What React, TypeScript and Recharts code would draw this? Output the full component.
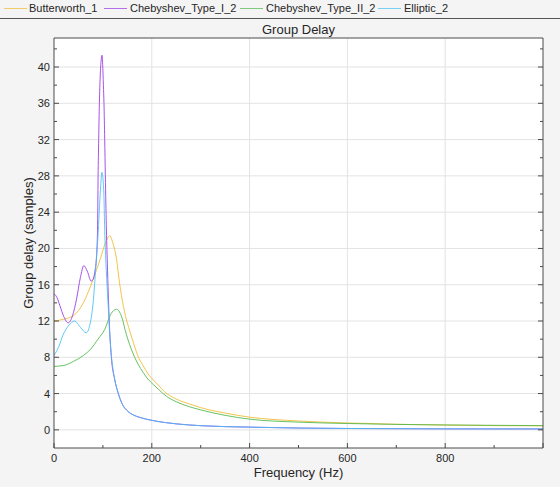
import React from 'react';
import {
  LineChart,
  Line,
  XAxis,
  YAxis,
  CartesianGrid,
} from 'recharts';

// Frequency (Hz) / group delay (samples)
const butterFreq = [0, 20, 40, 60, 80, 95, 105, 114, 118, 122, 128, 134, 138, 146, 155, 163, 172, 182, 192, 203, 213, 226, 250, 277, 300, 350, 400, 500, 600, 700, 800, 900, 1000];
const butterDelay = [12.0, 12.2, 12.6, 14.0, 16.6, 18.9, 20.6, 21.4, 21.0, 20.3, 18.8, 16.2, 14.8, 12.6, 10.9, 9.5, 8.1, 7.1, 6.2, 5.5, 4.95, 4.2, 3.4, 2.85, 2.45, 1.85, 1.4, 0.98, 0.76, 0.62, 0.53, 0.47, 0.44];

const cheb1Freq = [0, 6, 12, 20, 29, 38, 46, 54, 61, 68, 76, 80, 84, 87, 89, 90.2, 91.4, 92.8, 94.5, 96.5, 98.2, 99.5, 101, 102.2, 103.7, 105, 107, 109, 111, 113, 117, 124, 131, 140, 151, 162, 175, 200, 225, 250, 300, 400, 500, 600, 800, 1000];
const cheb1Delay = [15.0, 14.6, 13.7, 12.5, 11.8, 12.6, 14.4, 16.8, 18.1, 17.5, 16.4, 16.6, 17.6, 19.2, 22, 28, 32, 36, 39, 40.8, 41.3, 40.3, 38, 36, 32, 28, 22.5, 18.5, 15, 12, 8.2, 5.6, 4.1, 2.8, 2.05, 1.65, 1.38, 1.05, 0.82, 0.66, 0.46, 0.3, 0.2, 0.15, 0.11, 0.1];

const cheb2Freq = [0, 20, 40, 60, 75, 90, 104, 116, 122, 128, 134, 140, 145, 151, 158, 165, 172, 182, 192, 203, 213, 230, 250, 277, 300, 350, 400, 500, 600, 700, 800, 900, 1000];
const cheb2Delay = [7.0, 7.1, 7.55, 8.2, 8.9, 10.0, 11.1, 12.75, 13.15, 13.3, 13.0, 12.2, 11.1, 10.0, 8.9, 8.0, 7.24, 6.35, 5.6, 5.0, 4.5, 3.7, 3.1, 2.55, 2.2, 1.6, 1.18, 0.85, 0.7, 0.6, 0.54, 0.5, 0.47];

const ellipFreq = [0, 10, 18, 30, 42, 54, 66, 73, 80, 85, 90, 95, 98, 101.6, 104, 107, 110.5, 114, 117, 124, 131, 140, 151, 162, 175, 200, 225, 250, 300, 400, 500, 600, 800, 1000];
const ellipDelay = [8.2, 9.2, 10.4, 11.5, 12.0, 11.3, 10.7, 11.5, 14.0, 17.5, 21.4, 26.5, 28.4, 26.5, 21.4, 17.5, 14.0, 10.5, 8.4, 5.6, 4.1, 2.8, 2.05, 1.65, 1.38, 1.05, 0.82, 0.66, 0.46, 0.3, 0.2, 0.15, 0.11, 0.1];

const xTicks = [0, 100, 200, 300, 400, 500, 600, 700, 800, 900, 1000];
const yTicks = [0, 2, 4, 6, 8, 10, 12, 14, 16, 18, 20, 22, 24, 26, 28, 30, 32, 34, 36, 38, 40, 42];
const xGrid = [200, 400, 600, 800];
const yGrid = [0, 4, 8, 12, 16, 20, 24, 28, 32, 36, 40];

const toPoints = (xs: number[], ys: number[]) => xs.map((x, i) => ({ x, y: ys[i] }));

const series = [
  { name: 'Butterworth_1', color: '#f0b92e', data: toPoints(butterFreq, butterDelay) },
  { name: 'Chebyshev_Type_I_2', color: '#9a33e6', data: toPoints(cheb1Freq, cheb1Delay) },
  { name: 'Chebyshev_Type_II_2', color: '#4cb748', data: toPoints(cheb2Freq, cheb2Delay) },
  { name: 'Elliptic_2', color: '#43bff2', data: toPoints(ellipFreq, ellipDelay) },
];

const FONT = '"Liberation Sans", Arial, sans-serif';
const FRAME = '#4a4a4a';
const TEXT = '#262626';

const isMajorX = (v: number) => v % 200 === 0;
const isMajorY = (v: number) => v % 4 === 0;

const BottomTick = ({ x, y, payload }: any) => {
  const v = payload.value;
  const len = isMajorX(v) ? 5 : 3;
  return (
    <g>
      <line x1={x} x2={x} y1={y} y2={y - len} stroke={FRAME} />
      {isMajorX(v) && v < 1000 && (
        <text x={x} y={y + 14} textAnchor="middle" fontSize={11} fill={TEXT} fontFamily={FONT}>
          {v}
        </text>
      )}
    </g>
  );
};

const TopTick = ({ x, y, payload }: any) => {
  const len = isMajorX(payload.value) ? 5 : 3;
  return <line x1={x} x2={x} y1={y} y2={y + len} stroke={FRAME} />;
};

const LeftTick = ({ x, y, payload }: any) => {
  const v = payload.value;
  const len = isMajorY(v) ? 5 : 3;
  return (
    <g>
      <line x1={x} x2={x + len} y1={y} y2={y} stroke={FRAME} />
      {isMajorY(v) && (
        <text x={x - 4} y={y + 4} textAnchor="end" fontSize={11} fill={TEXT} fontFamily={FONT}>
          {v}
        </text>
      )}
    </g>
  );
};

const RightTick = ({ x, y, payload }: any) => {
  const len = isMajorY(payload.value) ? 5 : 3;
  return <line x1={x} x2={x - len} y1={y} y2={y} stroke={FRAME} />;
};

const legendPos = [
  { swatch: 4, text: 29 },
  { swatch: 104, text: 130 },
  { swatch: 240, text: 266 },
  { swatch: 378, text: 404 },
];

export default function App() {
  return (
    <div
      style={{
        position: 'absolute',
        left: 0,
        top: 0,
        width: 560,
        height: 487,
        background: '#f4f4f4',
        fontFamily: FONT,
        color: TEXT,
        overflow: 'hidden',
      }}
    >
      {/* Legend */}
      {series.map((s, i) => (
        <React.Fragment key={s.name}>
          <div
            style={{
              position: 'absolute',
              left: legendPos[i].swatch,
              top: 8,
              width: 23,
              height: 1,
              background: s.color,
              opacity: 0.7,
            }}
          />
          <div
            style={{
              position: 'absolute',
              left: legendPos[i].text,
              top: 1,
              fontSize: 11,
              lineHeight: '15px',
              whiteSpace: 'nowrap',
            }}
          >
            {s.name}
          </div>
        </React.Fragment>
      ))}
      <div style={{ position: 'absolute', left: 0, top: 18, width: 560, height: 1, background: '#555' }} />

      <LineChart width={560} height={487} margin={{ top: 0, right: 0, bottom: 0, left: 0 }}>
        <CartesianGrid
          xAxisId="b"
          yAxisId="l"
          fill="#ffffff"
          stroke="#e3e3e3"
          verticalValues={xGrid}
          horizontalValues={yGrid}
        />
        <XAxis
          xAxisId="b"
          dataKey="x"
          type="number"
          domain={[0, 1000]}
          ticks={xTicks}
          height={39}
          tickSize={0}
          tickMargin={0}
          tickLine={false}
          axisLine={{ stroke: FRAME }}
          tick={<BottomTick />}
          interval={0}
          allowDataOverflow
        />
        <XAxis
          xAxisId="t"
          orientation="top"
          type="number"
          domain={[0, 1000]}
          ticks={xTicks}
          height={38}
          tickSize={0}
          tickMargin={0}
          tickLine={false}
          axisLine={{ stroke: FRAME }}
          tick={<TopTick />}
          interval={0}
          allowDataOverflow
        />
        <YAxis
          yAxisId="l"
          type="number"
          domain={[-2, 43.2]}
          ticks={yTicks}
          width={54}
          tickSize={0}
          tickMargin={0}
          tickLine={false}
          axisLine={{ stroke: FRAME }}
          tick={<LeftTick />}
          interval={0}
          allowDataOverflow
        />
        <YAxis
          yAxisId="r"
          orientation="right"
          type="number"
          domain={[-2, 43.2]}
          ticks={yTicks}
          width={17}
          tickSize={0}
          tickMargin={0}
          tickLine={false}
          axisLine={{ stroke: FRAME }}
          tick={<RightTick />}
          interval={0}
          allowDataOverflow
        />
        {series.map((s) => (
          <Line
            key={s.name}
            xAxisId="b"
            yAxisId="l"
            data={s.data}
            dataKey="y"
            name={s.name}
            type="monotone"
            stroke={s.color}
            strokeWidth={1}
            strokeOpacity={0.85}
            dot={false}
            activeDot={false}
            isAnimationActive={false}
          />
        ))}
      </LineChart>

      {/* Title and axis labels */}
      <div style={{ position: 'absolute', left: 54, width: 489, top: 21, textAlign: 'center', fontSize: 13, lineHeight: '17px' }}>
        Group Delay
      </div>
      <div style={{ position: 'absolute', left: 54, width: 489, top: 464, textAlign: 'center', fontSize: 13, lineHeight: '17px' }}>
        Frequency (Hz)
      </div>
      <div
        style={{
          position: 'absolute',
          left: 28,
          top: 243,
          transform: 'translate(-50%, -50%) rotate(-90deg)',
          fontSize: 13,
          lineHeight: '17px',
          whiteSpace: 'nowrap',
        }}
      >
        Group delay (samples)
      </div>
    </div>
  );
}
